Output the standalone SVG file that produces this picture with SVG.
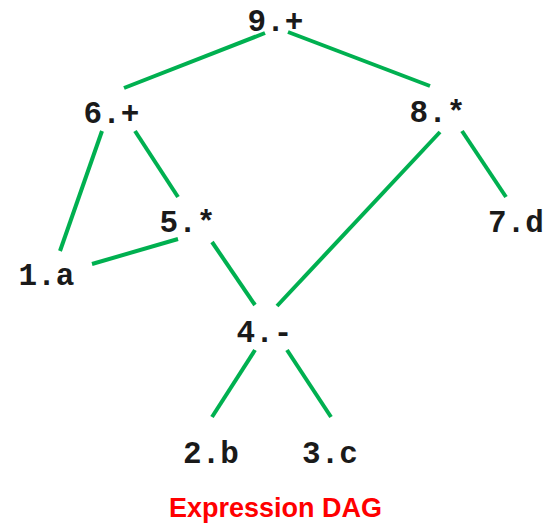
<svg xmlns="http://www.w3.org/2000/svg" width="550" height="523" viewBox="0 0 550 523">
<style>
.n{font-family:"Liberation Mono","Courier New",monospace;font-weight:bold;font-size:31px;fill:#1a1a1a;text-anchor:middle}
.e{stroke:#00b050;stroke-width:4;stroke-linecap:butt;fill:none}
.t{font-family:"Liberation Sans",Arial,sans-serif;font-weight:bold;font-size:27px;fill:#ff0000;text-anchor:middle}
</style>
<rect width="550" height="523" fill="#ffffff"/>
<g id="edges">
<line class="e" x1="265" y1="33" x2="124" y2="88"/>
<line class="e" x1="288" y1="32" x2="430" y2="86"/>
<line class="e" x1="102" y1="131" x2="60" y2="251"/>
<line class="e" x1="135" y1="131" x2="178" y2="197"/>
<line class="e" x1="178" y1="239" x2="92" y2="264"/>
<line class="e" x1="212" y1="242" x2="255" y2="305"/>
<line class="e" x1="440" y1="132" x2="277" y2="306"/>
<line class="e" x1="462" y1="131" x2="506" y2="197"/>
<line class="e" x1="255" y1="350" x2="212" y2="417"/>
<line class="e" x1="287" y1="350" x2="331" y2="417"/>
</g>
<g id="n9"><text class="n" x="275.5" y="31">9.+</text></g>
<g id="n6"><text class="n" x="111.5" y="123">6.+</text></g>
<g id="n8"><text class="n" x="437.5" y="122">8.*</text></g>
<g id="n5"><text class="n" x="187.5" y="232">5.*</text></g>
<g id="n1"><text class="n" x="46.5" y="285">1.a</text></g>
<g id="n7"><text class="n" x="516" y="232">7.d</text></g>
<g id="n4"><text class="n" x="264.5" y="342">4.-</text></g>
<g id="n2"><text class="n" x="211" y="463">2.b</text></g>
<g id="n3"><text class="n" x="330" y="463">3.c</text></g>
<g id="caption"><text class="t" x="275.5" y="517">Expression DAG</text></g>
</svg>
